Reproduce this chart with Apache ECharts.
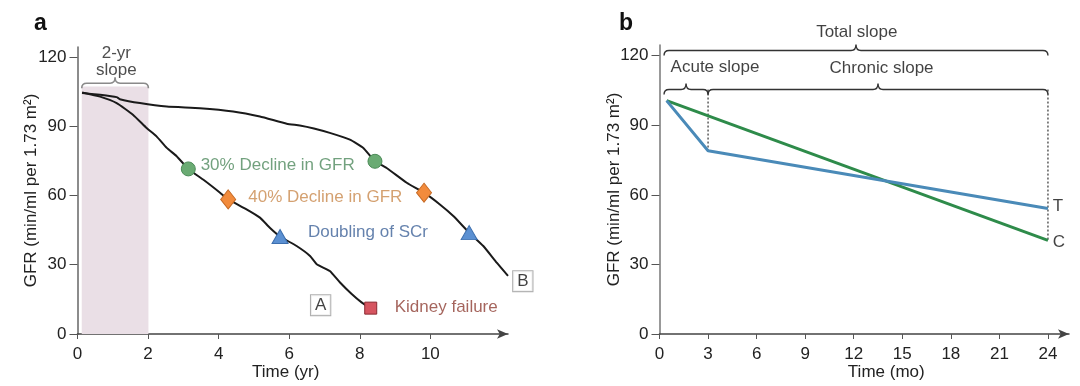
<!DOCTYPE html>
<html><head><meta charset="utf-8">
<script src="https://cdn.jsdelivr.net/npm/echarts@6/dist/echarts.min.js"></script>
<style>html,body{margin:0;padding:0;background:#fff}#c{width:1080px;height:386px}</style>
</head><body><div id="c"></div><script>
// ---------- Panel a data ----------
const aTicksX = [0, 2, 4, 6, 8, 10];
const aTicksY = [0, 30, 60, 90, 120];
const curveA_t = [0.13,0.64,1.11,1.57,1.96,2.24,2.53,2.81,3.14,3.56,4.04,4.27,4.79,5.17,5.45,5.74,6.21,6.59,6.78,7.15,7.44,7.77,8.05,8.31];
const curveA_v = [104.6,102.8,100.0,95.0,89.2,85.6,80.6,77.0,71.5,66.9,61.2,58.3,54.0,50.4,46.0,42.2,38.1,33.8,30.2,27.3,22.3,17.3,13.7,11.2];
const curveB_t = [0.13,0.64,1.11,1.20,1.77,2.53,3.47,4.41,5.17,5.93,6.30,6.70,7.15,7.72,8.10,8.43,8.76,9.33,9.82,10.27,10.65,11.10,11.50,11.88,12.20];
const curveB_v = [104.4,103.6,102.6,101.7,100.0,98.5,97.8,96.4,94.2,91.1,90.3,89.0,87.1,84.2,80.6,74.8,71.9,65.5,61.2,56.1,51.1,43.9,38.1,30.9,25.2];
const decline30 = [[3.14, 71.5], [8.43, 74.8]];
const decline40 = [[4.27, 58.3], [9.82, 61.2]];
const doublingSCr = [[5.74, 42.2], [11.10, 43.9]];
const kidneyFailure = [[8.31, 11.2]];
const slopeWindow = [0.12, 2.01, 107.2];           // x from, x to, top
const aBrace = [[0.12, 2.01, 108.6]];
const aNotes = [
  ['30% Decline in GFR', 3.49, 72.9],
  ['40% Decline in GFR', 4.84, 59.0],
  ['Doubling of SCr', 6.53, 44.0],
  ['Kidney failure', 8.99, 11.5]
];
const aBoxes = [['A', 6.89, 12.5], ['B', 12.62, 22.9]];
const aBraceText = [['2-yr\nslope', 1.1, 117.8]];

// ---------- Panel b data ----------
const bTicksX = [0, 3, 6, 9, 12, 15, 18, 21, 24];
const bTicksY = [0, 30, 60, 90, 120];
const treat_t = [0.44, 3, 24];
const treat_v = [100.6, 79.0, 54.1];
const ctrl_t = [0.44, 24];
const ctrl_v = [100.6, 40.4];
const bBraces = [[0.28, 24, 122.2], [0.28, 3, 105.4], [3, 24, 105.4]];
const bBraceText = [['Total slope', 12.19, 130.2], ['Acute slope', 3.43, 114.8], ['Chronic slope', 13.72, 114.7]];
const bDotted = [[3, 105.4, 79.0], [24, 105.4, 40.4]];
const bEnds = [['T', 24.29, 55.1], ['C', 24.29, 39.5]];

const FONT = '"Liberation Sans", Arial, Helvetica, sans-serif';
const pair = (t, v) => t.map((x, i) => [x, v[i]]);

function braceRender(color, lw) {
  return function (params, api) {
    const a = api.coord([api.value(0), api.value(2)]);
    const b = api.coord([api.value(1), api.value(2)]);
    const Y = a[1], X1 = a[0], X2 = b[0], CX = (X1 + X2) / 2;
    const d = 5, c = 6, r = 5;
    const p = `M${X1},${Y + d} Q${X1},${Y} ${X1 + r},${Y} L${CX - r},${Y} Q${CX},${Y} ${CX},${Y - c} Q${CX},${Y} ${CX + r},${Y} L${X2 - r},${Y} Q${X2},${Y} ${X2},${Y + d}`;
    return { type: 'path', shape: { pathData: p }, style: { stroke: color, fill: 'none', lineWidth: lw } };
  };
}

function textSeries(xi, items, label) {
  return {
    type: 'scatter', xAxisIndex: xi, yAxisIndex: xi, symbolSize: 0, clip: false, silent: true, z: 6,
    data: items.map(n => ({ name: n[0], value: [n[1], n[2]] })),
    label: Object.assign({ show: true, formatter: '{b}', fontSize: 17, fontFamily: FONT }, label)
  };
}

const noteColors = ['#4f8a5e', '#c98a4e', '#3f6399', '#8f3f35'];

const axisX = (gi, max, ticks, name, pad, lineColor) => ({
  gridIndex: gi, type: 'value', min: 0, max: max,
  axisLine: { show: true, lineStyle: { color: lineColor, width: 1.5 }, symbol: ['none', 'arrow'], symbolSize: [7, 11] },
  axisTick: { show: true, length: 5, customValues: ticks, lineStyle: { color: '#555' } },
  axisLabel: { customValues: ticks, fontSize: 17, color: '#222', margin: 12, fontFamily: FONT },
  splitLine: { show: false },
  name: name, nameLocation: 'middle', nameGap: 30, nameMoveOverlap: false,
  nameTextStyle: { fontSize: 17, color: '#222', fontFamily: FONT, padding: pad }
});
const axisY = (gi, max, ticks, lineColor, gap) => ({
  gridIndex: gi, type: 'value', min: 0, max: max,
  axisLine: { show: true, lineStyle: { color: lineColor, width: 1.5 } },
  axisTick: { show: true, length: 8, customValues: ticks, lineStyle: { color: '#555' } },
  axisLabel: { customValues: ticks, fontSize: 17, color: '#222', margin: 11, fontFamily: FONT },
  splitLine: { show: false },
  name: 'GFR (min/ml per 1.73 m²)', nameLocation: 'middle', nameGap: gap, nameMoveOverlap: false,
  nameTextStyle: { fontSize: 17, color: '#222', fontFamily: FONT }
});

const option = {
  animation: false,
  textStyle: { fontFamily: FONT },
  title: [
    { text: 'a', left: 34, top: 12, padding: 0, textStyle: { fontSize: 23, fontWeight: 'bold', color: '#111', fontFamily: FONT } },
    { text: 'b', left: 619, top: 12, padding: 0, textStyle: { fontSize: 23, fontWeight: 'bold', color: '#111', fontFamily: FONT } }
  ],
  grid: [
    { left: 77.5, top: 47, width: 430.5, height: 288 },
    { left: 659.5, top: 45, width: 409.5, height: 290 }
  ],
  xAxis: [
    axisX(0, 12.2, aTicksX, 'Time (yr)', [0, 14, 0, 0], '#444'),
    axisX(1, 25.3, bTicksX, 'Time (mo)', [0, 0, 0, 44], '#444')
  ],
  yAxis: [
    axisY(0, 124.3, aTicksY, '#666', 38),
    axisY(1, 124.6, bTicksY, '#777', 37)
  ],
  series: [
    // ----- panel a -----
    {
      type: 'line', xAxisIndex: 0, yAxisIndex: 0, data: pair(curveA_t, curveA_v), showSymbol: false, smooth: 0.15,
      lineStyle: { color: '#1a1a1a', width: 2 }, z: 3,
      markArea: { silent: true, itemStyle: { color: '#eadfe6' },
        data: [[{ coord: [slopeWindow[0], 0] }, { coord: [slopeWindow[1], slopeWindow[2]] }]] }
    },
    {
      type: 'line', xAxisIndex: 0, yAxisIndex: 0, data: pair(curveB_t, curveB_v), showSymbol: false, smooth: 0.15,
      lineStyle: { color: '#1a1a1a', width: 2 }, z: 3
    },
    { type: 'scatter', xAxisIndex: 0, yAxisIndex: 0, symbol: 'circle', symbolSize: 14, data: decline30, z: 5,
      itemStyle: { color: '#6aab73', borderColor: '#4b8a57', borderWidth: 1, opacity: 1 } },
    { type: 'scatter', xAxisIndex: 0, yAxisIndex: 0, symbol: 'diamond', symbolSize: [15, 19], data: decline40, z: 5,
      itemStyle: { color: '#f28b3c', borderColor: '#c66a25', borderWidth: 1, opacity: 1 } },
    { type: 'scatter', xAxisIndex: 0, yAxisIndex: 0, symbol: 'triangle', symbolSize: [16, 14], data: doublingSCr, z: 5,
      itemStyle: { color: '#5b90d2', borderColor: '#3d6fae', borderWidth: 1, opacity: 1 } },
    { type: 'scatter', xAxisIndex: 0, yAxisIndex: 0, symbol: 'rect', symbolSize: 12, data: kidneyFailure, z: 5,
      itemStyle: { color: '#d65560', borderColor: '#8b2a32', borderWidth: 1, opacity: 1 } },
    {
      type: 'custom', xAxisIndex: 0, yAxisIndex: 0, clip: false, silent: true, z: 4,
      renderItem: braceRender('#8a8a8a', 1.6), data: aBrace
    },
    Object.assign(textSeries(0, aNotes, { position: 'right', distance: 0 }), {
      data: aNotes.map((n, i) => ({ name: n[0], value: [n[1], n[2]], label: { color: noteColors[i] } }))
    }),
    textSeries(0, aBoxes, { position: 'inside', color: '#111', backgroundColor: '#fff', borderColor: '#9a9a9a', borderWidth: 1, padding: [2, 4, 1, 4] }),
    textSeries(0, aBraceText, { position: 'inside', color: '#222', lineHeight: 17 }),

    // ----- panel b -----
    ...bDotted.map(d => ({
      type: 'line', xAxisIndex: 1, yAxisIndex: 1, data: [[d[0], d[1]], [d[0], d[2]]], showSymbol: false, z: 2,
      lineStyle: { color: '#333', width: 1.2, type: [2, 2] }
    })),
    {
      type: 'line', xAxisIndex: 1, yAxisIndex: 1, data: pair(ctrl_t, ctrl_v), showSymbol: false, z: 3,
      lineStyle: { color: '#2e8b4a', width: 3 }
    },
    {
      type: 'line', xAxisIndex: 1, yAxisIndex: 1, data: pair(treat_t, treat_v), showSymbol: false, z: 4,
      lineStyle: { color: '#4a8ab8', width: 3 }
    },
    {
      type: 'custom', xAxisIndex: 1, yAxisIndex: 1, clip: false, silent: true, z: 4,
      renderItem: braceRender('#333', 1.4), data: bBraces
    },
    textSeries(1, bBraceText, { position: 'inside', color: '#111' }),
    textSeries(1, bEnds, { position: 'right', distance: 0, color: '#111' })
  ]
};

const chart = echarts.init(document.getElementById('c'), null, { renderer: 'canvas' });
chart.setOption(option);
</script></body></html>
